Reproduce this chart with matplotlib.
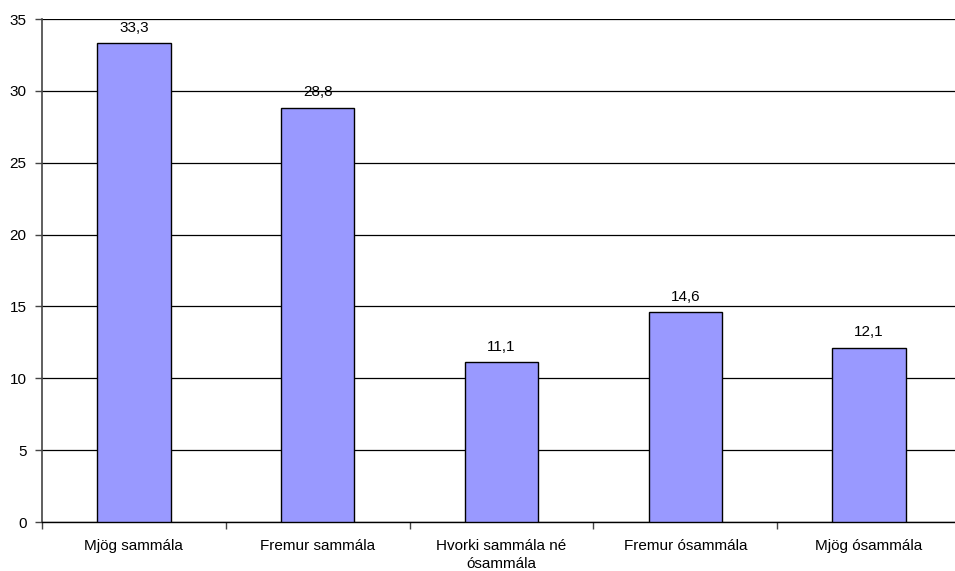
import matplotlib
matplotlib.use("Agg")
import matplotlib.pyplot as plt
import numpy as np

plt.rcParams['font.family'] = ['Liberation Sans', 'DejaVu Sans']

categories = ['Mjög sammála', 'Fremur sammála', 'Hvorki sammála né\nósammála',
              'Fremur ósammála', 'Mjög ósammála']
values = [33.3, 28.8, 11.1, 14.6, 12.1]
value_labels = ['33,3', '28,8', '11,1', '14,6', '12,1']
y_ticks = [0, 5, 10, 15, 20, 25, 30, 35]

W, H = 955, 571
fig = plt.figure(figsize=(W / 100, H / 100), dpi=100)
# axes in pixel coordinates (right edge runs slightly past the image, as in the reference)
left, right, top, bottom = 42, 961, 19, 522
ax = fig.add_axes([left / W, 1 - bottom / H, (right - left) / W, (bottom - top) / H])

x = np.arange(len(categories))
bars = ax.bar(x, values, width=0.40, color='#9999FF', edgecolor='black', linewidth=1.0, zorder=3)

for xi, v, lab in zip(x, values, value_labels):
    ax.text(xi, v + 0.6, lab, ha='center', va='bottom', fontsize=11, color='black')

ax.set_xlim(-0.5, len(categories) - 0.5)
ax.set_ylim(0, 35)
ax.set_yticks(y_ticks)
ax.set_yticklabels([str(t) for t in y_ticks], fontsize=11)
ax.yaxis.grid(True, color='black', linewidth=0.9, zorder=0)
ax.set_axisbelow(True)

# category labels between boundary ticks
ax.set_xticks(np.arange(len(categories) + 1) - 0.5)
ax.set_xticklabels([])
ax.set_xticks(x, minor=True)
ax.set_xticklabels(categories, minor=True, fontsize=11, linespacing=1.4)
ax.tick_params(axis='x', which='minor', length=0, pad=12)
ax.tick_params(axis='x', which='major', length=5, width=1, color='#444444')
ax.tick_params(axis='y', length=5, width=1, color='#444444', pad=6)

for s in ['top', 'right']:
    ax.spines[s].set_visible(False)
ax.spines['left'].set_color('#444444')
ax.spines['left'].set_linewidth(1.2)
ax.spines['bottom'].set_color('black')
ax.spines['bottom'].set_linewidth(1.0)

fig.savefig('out.png', dpi=100)
